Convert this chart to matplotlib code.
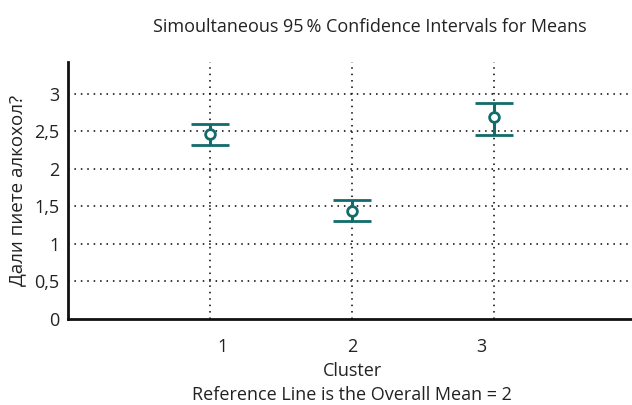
import matplotlib
matplotlib.use("Agg")
import matplotlib.pyplot as plt

clusters = [1, 2, 3]
means = [2.457, 1.437, 2.686]
lower = [2.32, 1.305, 2.453]
upper = [2.60, 1.587, 2.877]
y_ticks = [0, 0.5, 1, 1.5, 2, 2.5, 3]
y_tick_labels = ["0", "0,5", "1", "1,5", "2", "2,5", "3"]
x_tick_labels = ["1", "2", "3"]
overall_mean = 2

plt.rcParams['font.family'] = ['Open Sans', 'DejaVu Sans']
color = '#136b6b'
tc = '#222222'

fig = plt.figure(figsize=(6.32, 4.05), dpi=100)
ax = fig.add_axes([68/632, 1-319/405, (636-68)/632, (319-62)/405])

err_lo = [m - l for m, l in zip(means, lower)]
err_hi = [u - m for m, u in zip(means, upper)]
ax.errorbar(clusters, means, yerr=[err_lo, err_hi], fmt='o', color=color,
            mfc='white', mec=color, ms=7, mew=2, elinewidth=2.2,
            capsize=14, capthick=2.4, zorder=5)

ax.set_xlim(0, 4)
ax.set_ylim(0, 3.42)
ax.set_yticks(y_ticks)
ax.set_yticklabels(y_tick_labels, fontsize=13, color=tc)
ax.set_xticks([1.09, 2, 2.91])
ax.set_xticklabels(x_tick_labels, fontsize=13, color=tc)
ax.tick_params(axis='both', length=0)
ax.tick_params(axis='x', pad=14)
ax.tick_params(axis='y', pad=6)

for y in y_ticks[1:]:
    ax.axhline(y, color='black', lw=1.1, ls=(0, (1, 3.2)), zorder=1)
for c in clusters:
    ax.axvline(c, color='black', lw=1.1, ls=(0, (1, 3.2)), zorder=1)

for s in ['top', 'right']:
    ax.spines[s].set_visible(False)
for s in ['left', 'bottom']:
    ax.spines[s].set_linewidth(2)
    ax.spines[s].set_color('#111111')

ax.set_ylabel('Дали пиете алкохол?', fontsize=13.5, color=tc, labelpad=6)
ax.set_xlabel(f'Cluster\nReference Line is the Overall Mean = {overall_mean}',
              fontsize=13, color=tc, linespacing=1.45, labelpad=4)
fig.text(370/632, 1-27/405, 'Simoultaneous 95\u2009% Confidence Intervals for Means',
         ha='center', va='center', fontsize=13, color=tc)

fig.savefig('out.png', dpi=100)
